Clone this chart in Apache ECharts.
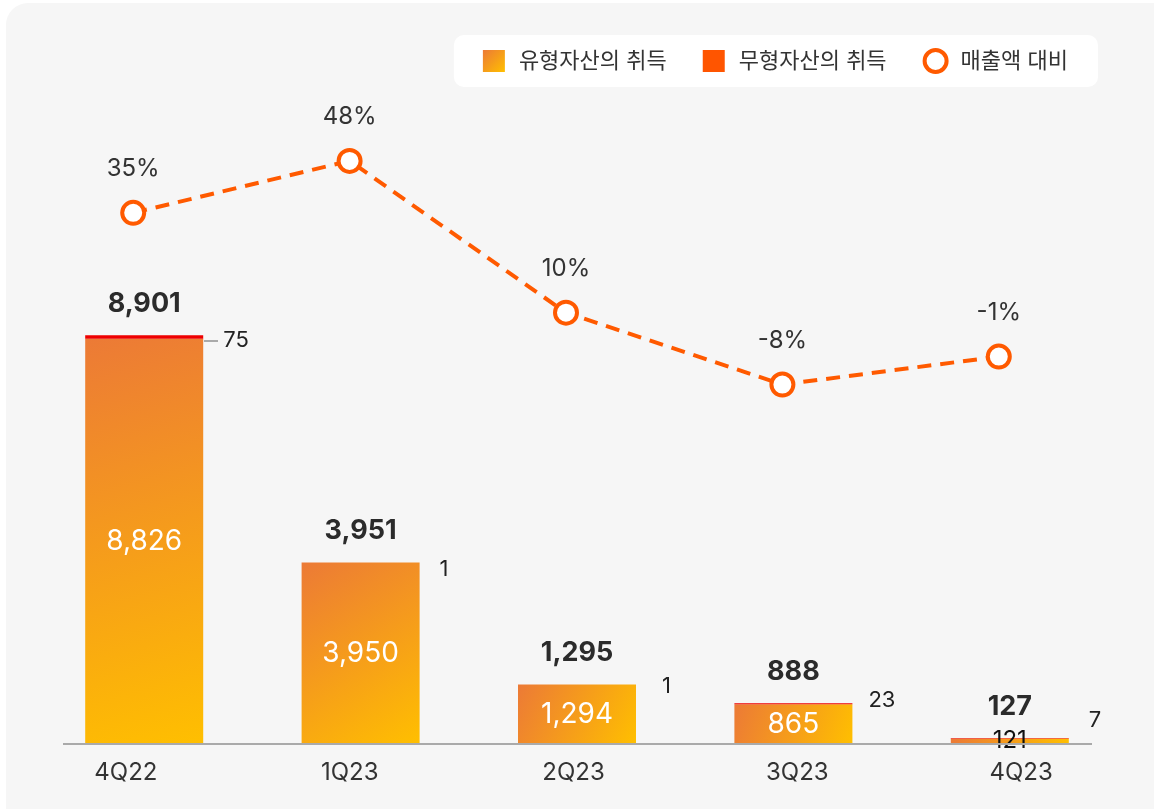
<!DOCTYPE html>
<html lang="ko">
<head>
<meta charset="UTF-8">
<script src="https://cdn.jsdelivr.net/npm/echarts@6/dist/echarts.min.js"></script>
<title>취득 현황</title>
<style>
  *{margin:0;padding:0}
  html,body{width:100%;height:100%;background:#fff;overflow:hidden}
  .panel{position:absolute;left:6px;top:3px;width:1180px;height:840px;background:#f6f6f6;border-radius:22px}
  #main{position:absolute;left:0;top:0;width:1154px;height:809px}
</style>
</head>
<body>
<div class="panel"></div>
<div id="main"></div>
<script type="text/javascript">
// 데이터
var quarters = ['4Q22', '1Q23', '2Q23', '3Q23', '4Q23'];
var tangible = [8826, 3950, 1294, 865, 121];     // 유형자산의 취득
var intangible = [75, 1, 1, 23, 7];              // 무형자산의 취득
var totals = [8901, 3951, 1295, 888, 127];
var ratio = [35, 48, 10, -8, -1];                // 매출액 대비 (%)

var FONT = 'Inter, "Noto Sans CJK KR", sans-serif';
var ORANGE = '#FF5A00';

var chart = echarts.init(document.getElementById('main'));

var barGrad = new echarts.graphic.LinearGradient(0, 0, 1, 1, [
  {offset: 0, color: '#EC7A36'},
  {offset: 1, color: '#FFBF00'}
]);

// 오른쪽 라벨 위치 보정
var sideOffsets = [[0, 3], [0, 7], [6, 2], [-4, -3], [0, -18]];

var option = {
  textStyle: {fontFamily: FONT},
  animation: false,
  legend: {
    right: 56,
    top: 35,
    padding: [13, 30, 13, 29],
    backgroundColor: '#fff',
    borderRadius: 10,
    itemWidth: 22,
    itemHeight: 22,
    itemGap: 36,
    textStyle: {fontSize: 22, color: '#333', fontFamily: FONT, padding: [0, 0, 0, 9]},
    data: [
      {name: '유형자산의 취득', icon: 'rect'},
      {name: '무형자산의 취득', icon: 'rect'},
      {name: '매출액 대비', icon: 'circle',
       itemStyle: {color: '#fff', borderColor: ORANGE, borderWidth: 4}}
    ]
  },
  graphic: [
    {type: 'line', shape: {x1: 63, y1: 744, x2: 1092, y2: 744},
     style: {stroke: '#aaa', lineWidth: 2}, z: 10},
    {type: 'line', shape: {x1: 204, y1: 341, x2: 218, y2: 341},
     style: {stroke: '#aaa', lineWidth: 2}, z: 10}
  ],
  grid: [
    {left: 36, right: 36, top: 101, bottom: 65},
    {left: 25, right: 47, top: 101, bottom: 65},
    {left: 14, right: 21, top: 101, bottom: 65}
  ],
  xAxis: [
    {type: 'category', data: quarters, show: false},
    {type: 'category', gridIndex: 1, data: quarters, show: false},
    {
      type: 'category',
      gridIndex: 2,
      data: quarters,
      axisTick: {show: false},
      axisLine: {show: false},
      axisLabel: {fontSize: 24, color: '#333', margin: 17}
    }
  ],
  yAxis: [
    {type: 'value', min: 0, max: 14000, show: false, splitLine: {show: false}},
    {type: 'value', gridIndex: 1, min: -98, max: 63, show: false, splitLine: {show: false}},
    {type: 'value', gridIndex: 2, min: 0, max: 1, show: false, splitLine: {show: false}}
  ],
  series: [
    {
      name: '유형자산의 취득',
      type: 'bar',
      stack: 'a',
      barWidth: 118,
      itemStyle: {color: barGrad},
      label: {
        show: true,
        position: 'inside',
        fontSize: 28,
        color: '#fff',
        formatter: function (p) { return p.value.toLocaleString('en-US'); }
      },
      data: tangible.map(function (v, i) {
        var d = {value: v};
        if (i === 4) d.label = {color: '#111', fontSize: 24};
        return d;
      })
    },
    {
      name: '무형자산의 취득',
      type: 'bar',
      stack: 'a',
      barWidth: 118,
      itemStyle: {color: '#FF5500'},
      label: {
        show: true,
        position: 'right',
        distance: 20,
        fontSize: 22,
        color: '#222'
      },
      data: intangible.map(function (v, i) {
        return {
          value: v,
          itemStyle: {color: '#EE0000'},
          label: {offset: sideOffsets[i]}
        };
      })
    },
    {
      name: '합계',
      type: 'bar',
      stack: 'a',
      barWidth: 118,
      itemStyle: {color: 'transparent'},
      label: {
        show: true,
        position: 'top',
        distance: 18,
        fontSize: 27,
        fontWeight: 'bold',
        color: '#2b2b2b',
        formatter: function (p) { return totals[p.dataIndex].toLocaleString('en-US'); }
      },
      data: totals.map(function () { return 0; })
    },
    {
      name: '매출액 대비',
      type: 'line',
      xAxisIndex: 1,
      yAxisIndex: 1,
      symbol: 'circle',
      symbolSize: 22,
      itemStyle: {color: '#fff', borderColor: ORANGE, borderWidth: 4},
      lineStyle: {color: ORANGE, width: 4, type: [14, 9]},
      label: {
        show: true,
        position: 'top',
        distance: 19,
        fontSize: 24,
        color: '#333',
        formatter: '{c}%'
      },
      z: 5,
      data: ratio
    }
  ]
};

chart.setOption(option);
</script>
</body>
</html>
